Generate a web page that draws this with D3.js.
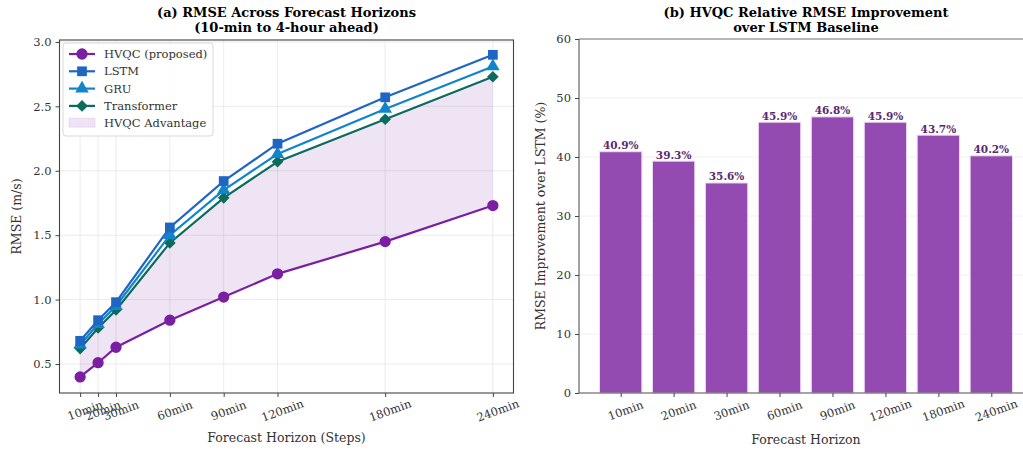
<!DOCTYPE html>
<html>
<head>
<meta charset="utf-8">
<script src="https://cdn.jsdelivr.net/npm/d3@7"></script>
<style>
  body { margin: 0; background: #fff; }
  svg { font-family: "DejaVu Serif", serif; display: block; }
  .tick text { font-size: 11.5px; fill: #333; font-family: "DejaVu Serif", serif; }
  .tick line { stroke: #444; }
  .domain { display: none; }
</style>
</head>
<body>
<svg width="1023" height="453"></svg>
<script>
// ---- data ----
var horizons = [10, 20, 30, 60, 90, 120, 180, 240];
var horizonLabels = ['10min', '20min', '30min', '60min', '90min', '120min', '180min', '240min'];
var hvqc = [0.40, 0.51, 0.63, 0.84, 1.02, 1.20, 1.45, 1.73];
var lstm = [0.68, 0.84, 0.98, 1.56, 1.92, 2.21, 2.57, 2.90];
var gru = [0.65, 0.81, 0.95, 1.50, 1.85, 2.13, 2.48, 2.81];
var transformer = [0.62, 0.78, 0.92, 1.44, 1.79, 2.07, 2.40, 2.73];
var improvement = [40.9, 39.3, 35.6, 45.9, 46.8, 45.9, 43.7, 40.2];
var rmseTicks = [0.5, 1.0, 1.5, 2.0, 2.5, 3.0];
var impTicks = [0, 10, 20, 30, 40, 50, 60];

var series = [
  {name: 'HVQC (proposed)', values: hvqc, color: '#7b1fa2', marker: 'circle'},
  {name: 'LSTM', values: lstm, color: '#1f66c2', marker: 'square'},
  {name: 'GRU', values: gru, color: '#1185cc', marker: 'triangle'},
  {name: 'Transformer', values: transformer, color: '#0b6b5d', marker: 'diamond'}
];

var svg = d3.select('svg');
svg.append('rect').attr('width', 1023).attr('height', 453).attr('fill', '#fff');

var gridColor = '#e6e6e6';

// ================= panel (a) =================
var A = {l: 59.5, r: 513.5, t: 40, b: 393};
var xA = d3.scaleLinear().domain([-1.5, 251.5]).range([A.l, A.r]);
var yA = d3.scaleLinear().domain([0.275, 3.015]).range([A.b, A.t]);

var gA = svg.append('g');

// grid
gA.selectAll('.gx').data(horizons).enter().append('line')
  .attr('x1', d => xA(d)).attr('x2', d => xA(d))
  .attr('y1', A.t).attr('y2', A.b)
  .attr('stroke', gridColor).attr('stroke-width', 0.8);
gA.selectAll('.gy').data(rmseTicks).enter().append('line')
  .attr('x1', A.l).attr('x2', A.r)
  .attr('y1', d => yA(d)).attr('y2', d => yA(d))
  .attr('stroke', gridColor).attr('stroke-width', 0.8);

// advantage band between HVQC and best baseline
var band = d3.area()
  .x((d, i) => xA(horizons[i]))
  .y0((d, i) => yA(hvqc[i]))
  .y1((d, i) => yA(transformer[i]));
gA.append('path').datum(hvqc).attr('d', band)
  .attr('fill', '#7b1fa2').attr('fill-opacity', 0.12);

var symbolFor = {
  circle: d3.symbolCircle, square: d3.symbolSquare,
  triangle: d3.symbolTriangle, diamond: d3.symbolSquare
};
var sizeFor = {circle: 100, square: 95, triangle: 80, diamond: 68};
function markerTransform(s, x, y) {
  return 'translate(' + x + ',' + y + ')' + (s.marker === 'diamond' ? 'rotate(45)' : '');
}

var line = d3.line().x((d, i) => xA(horizons[i])).y(d => yA(d));

// draw from back to front so HVQC sits on top
series.slice().reverse().forEach(function(s) {
  gA.append('path').datum(s.values).attr('d', line)
    .attr('fill', 'none').attr('stroke', s.color).attr('stroke-width', 2.2);
  gA.selectAll(null).data(s.values).enter().append('path')
    .attr('transform', (d, i) => markerTransform(s, xA(horizons[i]), yA(d)))
    .attr('d', d3.symbol().type(symbolFor[s.marker]).size(sizeFor[s.marker]))
    .attr('fill', s.color);
});

// frame
gA.append('rect').attr('x', A.l).attr('y', A.t)
  .attr('width', A.r - A.l).attr('height', A.b - A.t)
  .attr('fill', 'none').attr('stroke', '#444').attr('stroke-width', 1.1);

// axes
var xAxisA = gA.append('g').attr('transform', 'translate(0,' + A.b + ')')
  .call(d3.axisBottom(xA).tickValues(horizons).tickSize(4).tickPadding(5)
    .tickFormat((d, i) => horizonLabels[i]));
xAxisA.selectAll('.tick text')
  .attr('text-anchor', 'middle')
  .attr('transform', 'translate(0,5) rotate(-20)');

gA.append('g').attr('transform', 'translate(' + A.l + ',0)')
  .call(d3.axisLeft(yA).tickValues(rmseTicks).tickSize(4).tickPadding(4)
    .tickFormat(d3.format('.1f')));

gA.append('text').attr('x', (A.l + A.r) / 2).attr('y', 442)
  .attr('text-anchor', 'middle').attr('font-size', 12.5).attr('fill', '#333')
  .text('Forecast Horizon (Steps)');
gA.append('text').attr('transform', 'translate(21,' + (A.t + A.b) / 2 + ') rotate(-90)')
  .attr('text-anchor', 'middle').attr('font-size', 12.5).attr('fill', '#333')
  .text('RMSE (m/s)');

gA.append('text').attr('x', (A.l + A.r) / 2).attr('y', 17)
  .attr('text-anchor', 'middle').attr('font-size', 13).attr('font-weight', 'bold')
  .text('(a) RMSE Across Forecast Horizons');
gA.append('text').attr('x', (A.l + A.r) / 2).attr('y', 32)
  .attr('text-anchor', 'middle').attr('font-size', 13).attr('font-weight', 'bold')
  .text('(10-min to 4-hour ahead)');

// legend
var leg = gA.append('g').attr('transform', 'translate(63,43)');
leg.append('rect').attr('width', 150).attr('height', 93).attr('rx', 3)
  .attr('fill', '#fff').attr('fill-opacity', 0.85)
  .attr('stroke', '#d8d8d8').attr('stroke-width', 1);
series.forEach(function(s, i) {
  var y = 11 + i * 17.3;
  leg.append('line').attr('x1', 6).attr('x2', 32).attr('y1', y).attr('y2', y)
    .attr('stroke', s.color).attr('stroke-width', 2.2);
  leg.append('path')
    .attr('transform', markerTransform(s, 19, y))
    .attr('d', d3.symbol().type(symbolFor[s.marker]).size(sizeFor[s.marker]))
    .attr('fill', s.color);
  leg.append('text').attr('x', 41).attr('y', y + 4).attr('font-size', 11.5)
    .attr('fill', '#333').text(s.name);
});
leg.append('rect').attr('x', 6).attr('y', 11 + 4 * 17.3 - 5).attr('width', 26).attr('height', 9)
  .attr('fill', '#7b1fa2').attr('fill-opacity', 0.12).attr('stroke', '#7b1fa2').attr('stroke-opacity', 0.1);
leg.append('text').attr('x', 41).attr('y', 11 + 4 * 17.3 + 4).attr('font-size', 11.5)
  .attr('fill', '#333').text('HVQC Advantage');

// ================= panel (b) =================
var B = {l: 579, r: 1033, t: 39, b: 393};
var xB = d3.scaleLinear().domain([-0.787, 7.787]).range([B.l, B.r]);
var barW = xB(0.4) - xB(-0.4);
var yB = d3.scaleLinear().domain([0, 60]).range([B.b, B.t]);

var gB = svg.append('g');

gB.selectAll('.gy').data(impTicks).enter().append('line')
  .attr('x1', B.l).attr('x2', B.r)
  .attr('y1', d => yB(d)).attr('y2', d => yB(d))
  .attr('stroke', '#ececec').attr('stroke-width', 0.8);

gB.selectAll('.bar').data(improvement).enter().append('rect')
  .attr('x', (d, i) => xB(i) - barW / 2)
  .attr('width', barW)
  .attr('y', d => yB(d))
  .attr('height', d => B.b - yB(d))
  .attr('fill', '#934bb2')
  .attr('stroke', '#ecdcf2').attr('stroke-width', 1);

gB.selectAll('.lbl').data(improvement).enter().append('text')
  .attr('x', (d, i) => xB(i))
  .attr('y', d => yB(d) - 2.5)
  .attr('text-anchor', 'middle').attr('font-size', 10.5).attr('font-weight', 'bold')
  .attr('fill', '#5a2a70')
  .text(d => d.toFixed(1) + '%');

// spines
gB.append('line').attr('x1', B.l).attr('x2', B.l).attr('y1', B.t).attr('y2', B.b)
  .attr('stroke', '#555').attr('stroke-width', 1.1);
gB.append('line').attr('x1', B.l).attr('x2', B.r).attr('y1', B.b).attr('y2', B.b)
  .attr('stroke', '#555').attr('stroke-width', 1.1);
gB.append('line').attr('x1', B.l).attr('x2', B.r).attr('y1', B.t).attr('y2', B.t)
  .attr('stroke', '#777').attr('stroke-width', 1.1);

var xAxisB = gB.append('g').attr('transform', 'translate(0,' + B.b + ')')
  .call(d3.axisBottom(xB).tickValues(d3.range(horizonLabels.length))
    .tickSize(4).tickPadding(5).tickFormat(i => horizonLabels[i]));
xAxisB.selectAll('.tick text')
  .attr('text-anchor', 'middle')
  .attr('transform', 'translate(0,5) rotate(-20)');

gB.append('g').attr('transform', 'translate(' + B.l + ',0)')
  .call(d3.axisLeft(yB).tickValues(impTicks).tickSize(4).tickPadding(4));

gB.append('text').attr('x', 806).attr('y', 444)
  .attr('text-anchor', 'middle').attr('font-size', 12.5).attr('fill', '#333')
  .text('Forecast Horizon');
gB.append('text').attr('transform', 'translate(545,' + (B.t + B.b) / 2 + ') rotate(-90)')
  .attr('text-anchor', 'middle').attr('font-size', 12.5).attr('fill', '#333')
  .text('RMSE Improvement over LSTM (%)');

gB.append('text').attr('x', 806).attr('y', 17)
  .attr('text-anchor', 'middle').attr('font-size', 13).attr('font-weight', 'bold')
  .text('(b) HVQC Relative RMSE Improvement');
gB.append('text').attr('x', 806).attr('y', 32)
  .attr('text-anchor', 'middle').attr('font-size', 13).attr('font-weight', 'bold')
  .text('over LSTM Baseline');
</script>
</body>
</html>
